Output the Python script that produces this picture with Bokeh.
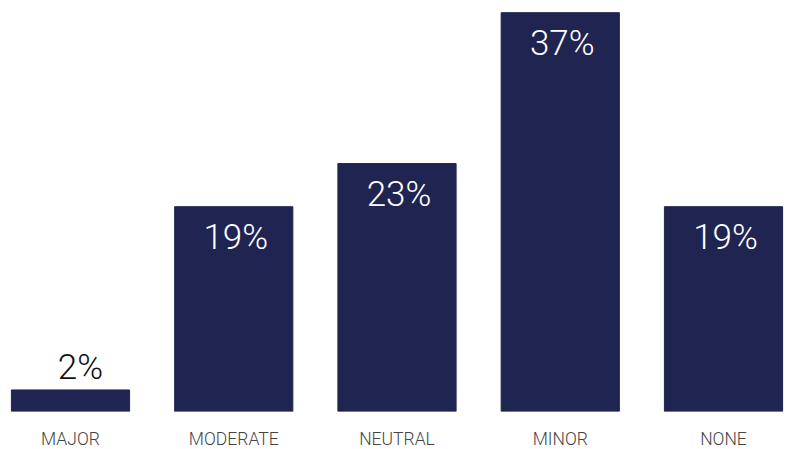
from bokeh.plotting import figure
from bokeh.models import ColumnDataSource, FactorRange
from bokeh.embed import file_html
from bokeh.resources import INLINE
from bokeh.core.properties import value

categories = ["MAJOR", "MODERATE", "NEUTRAL", "MINOR", "NONE"]
values = [2, 19, 23, 37, 19]
labels = ["2%", "19%", "23%", "37%", "19%"]

inside = [v >= 5 for v in values]
src_in = ColumnDataSource(dict(
    cat=[c for c, i in zip(categories, inside) if i],
    val=[v for v, i in zip(values, inside) if i],
    lab=[l for l, i in zip(labels, inside) if i]))
src_out = ColumnDataSource(dict(
    cat=[c for c, i in zip(categories, inside) if not i],
    val=[v for v, i in zip(values, inside) if not i],
    lab=[l for l, i in zip(labels, inside) if not i]))
src = ColumnDataSource(dict(cat=categories, val=values))

FONT = "'Roboto Light', Roboto, sans-serif"

p = figure(frame_width=793, frame_height=411, output_backend="svg", toolbar_location=None,
           x_range=FactorRange(factors=categories, range_padding=-0.0712,
                               range_padding_units="absolute"),
           y_range=(0, 38.13),
           min_border_left=0, min_border_right=3, min_border_top=0,
           min_border_bottom=38)
p.outline_line_color = None
p.background_fill_color = "white"
p.border_fill_color = "white"

p.vbar(x="cat", top="val", width=0.724, source=src, color="#1f2451")

p.text(x="cat", y="val", text="lab", source=src_in, text_color="white",
       text_font=value(FONT), text_font_size="35px",
       text_align="center", text_baseline="middle", y_offset=31, x_offset=2)
p.text(x="cat", y="val", text="lab", source=src_out, text_color="#111111",
       text_font=value(FONT), text_font_size="35px",
       text_align="center", text_baseline="middle", y_offset=-22, x_offset=10)

p.yaxis.visible = False
p.xgrid.visible = False
p.ygrid.visible = False
p.xaxis.axis_line_color = None
p.xaxis.major_tick_line_color = None
p.xaxis.minor_tick_line_color = None
p.xaxis.major_label_standoff = 11
p.xaxis.major_label_text_font = FONT
p.xaxis.major_label_text_font_size = "17.5px"
p.xaxis.major_label_text_color = "#444444"

open("out.html", "w").write(file_html(p, INLINE))
